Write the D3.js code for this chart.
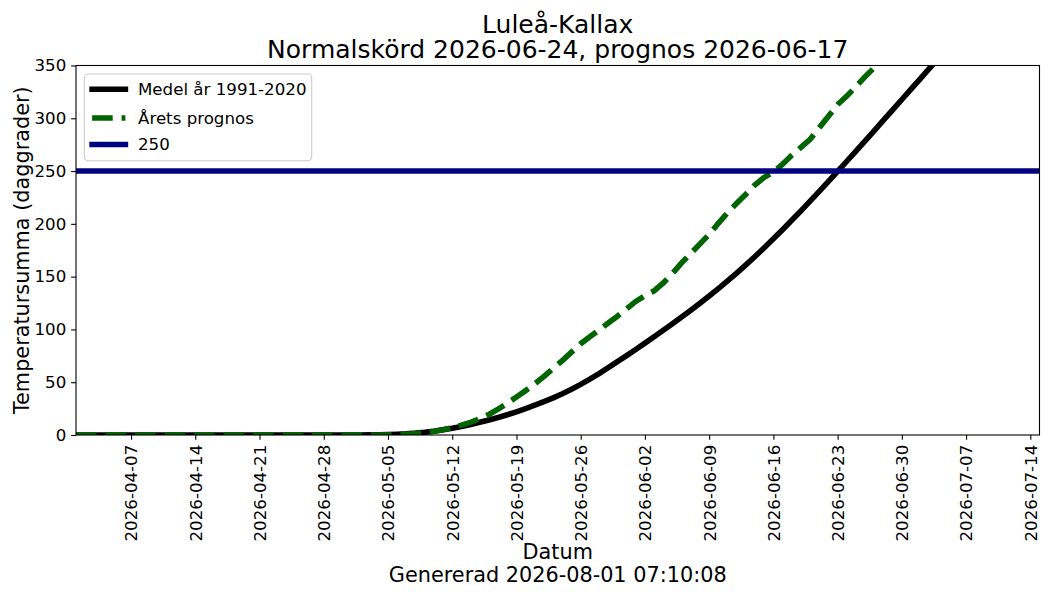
<!DOCTYPE html>
<html lang="sv">
<head>
  <meta charset="UTF-8">
  <title>Luleå-Kallax temperatursumma</title>
  <script src="https://d3js.org/d3.v7.min.js"></script>
  <style>
    body { margin: 0; background: #fff; }
    svg { display: block; font-family: "DejaVu Sans", sans-serif; }
  </style>
</head>
<body>
  <div id="chart"></div>

  <script>
    // both series start on this day, one value per day
    const startDate = "2026-04-01";
    const endDate = "2026-07-15";
    const firstTickDate = "2026-04-07";

    // mean temperature sum 1991-2020 (daggrader)
    const medelValues = [
      0, 0, 0, 0, 0, 0, 0, 0, 0, 0,
      0, 0, 0, 0, 0, 0, 0, 0, 0, 0,
      0, 0, 0, 0, 0, 0, 0, 0, 0, 0,
      0, 0.05, 0.15, 0.3, 0.5, 0.8, 1.2, 1.8, 2.6, 3.6,
      4.9, 6.4, 8.1, 10.0, 12.0, 14.2, 16.6, 19.2, 22.0, 25.0,
      28.2, 31.6, 35.2, 39.1, 43.3, 47.9, 52.9, 58.2, 63.8, 69.45,
      75.2, 81.05, 87.0, 93.05, 99.2, 105.45, 111.8, 118.25, 124.85, 131.65,
      138.65, 145.9, 153.4, 161.15, 169.15, 177.4, 185.85, 194.5, 203.35, 212.35,
      221.5, 230.8, 240.2, 249.7, 259.3, 268.95, 278.65, 288.4, 298.2, 308.0,
      317.8, 327.6, 337.4, 347.2, 357.0, 366.8
    ];

    // this year's forecast
    const prognosValues = [
      0, 0, 0, 0, 0, 0, 0, 0, 0, 0,
      0, 0, 0, 0, 0, 0, 0, 0, 0, 0,
      0, 0, 0, 0, 0, 0, 0, 0, 0, 0,
      0, 0, 0, 0, 0.2, 0.4, 0.8, 1.4, 2.3, 3.5,
      5.0, 7.0, 9.3, 12.0, 15.5, 19.5, 24.5, 30.0, 36.0, 42.0,
      48.5, 55.5, 63.0, 70.5, 78.5, 86.5, 93.0, 99.5, 106.0, 112.5,
      119.5, 126.5, 132.0, 136.5, 144.0, 153.0, 163.0, 172.0, 181.0, 190.0,
      200.5, 210.5, 219.5, 228.0, 237.0, 244.0, 249.0, 256.5, 265.0, 272.5,
      280.0, 291.0, 302.0, 313.0, 321.0, 330.0, 339.5, 348.0, 357.0, 366.0
    ];

    const thresholdValue = 250;
    const yTicks = [0, 50, 100, 150, 200, 250, 300, 350];

    const titleLines = ["Luleå-Kallax", "Normalskörd 2026-06-24, prognos 2026-06-17"];
    const xLabelLines = ["Datum", "Genererad 2026-08-01 07:10:08"];
    const yLabel = "Temperatursumma (daggrader)";
    const legendLabels = ["Medel år 1991-2020", "Årets prognos", "250"];

    // figure dimensions
    const width = 1050, height = 600;
    const plot = { left: 76, right: 1039.5, top: 65.5, bottom: 435 };
    const lw = 5.56; // 4pt lines

    const parseDate = d3.utcParse("%Y-%m-%d");
    const start = parseDate(startDate);
    const toPoints = vals => vals.map((v, i) => ({ date: d3.utcDay.offset(start, i), value: v }));

    const svg = d3.select("#chart").append("svg")
      .attr("width", width)
      .attr("height", height);

    svg.append("rect").attr("width", width).attr("height", height).attr("fill", "#fff");

    const x = d3.scaleUtc()
      .domain([start, parseDate(endDate)])
      .range([plot.left, plot.right]);

    const y = d3.scaleLinear()
      .domain([0, 350])
      .range([plot.bottom, plot.top]);

    svg.append("clipPath").attr("id", "plot-clip")
      .append("rect")
      .attr("x", plot.left).attr("y", plot.top)
      .attr("width", plot.right - plot.left)
      .attr("height", plot.bottom - plot.top);

    const line = d3.line()
      .x(d => x(d.date))
      .y(d => y(d.value));

    const lines = svg.append("g").attr("clip-path", "url(#plot-clip)");

    // mean curve
    lines.append("path")
      .datum(toPoints(medelValues))
      .attr("d", line)
      .attr("fill", "none")
      .attr("stroke", "#000")
      .attr("stroke-width", lw)
      .attr("stroke-linecap", "square");

    // forecast, dashed
    lines.append("path")
      .datum(toPoints(prognosValues))
      .attr("d", line)
      .attr("fill", "none")
      .attr("stroke", "#006400")
      .attr("stroke-width", lw)
      .attr("stroke-dasharray", "20.6,8.9");

    // threshold line
    lines.append("line")
      .attr("x1", plot.left).attr("x2", plot.right)
      .attr("y1", y(thresholdValue)).attr("y2", y(thresholdValue))
      .attr("stroke", "#000080")
      .attr("stroke-width", lw);

    // axes
    const xTicks = d3.utcDay.range(parseDate(firstTickDate), d3.utcDay.offset(parseDate(endDate), 1), 7);

    const xAxis = svg.append("g")
      .attr("transform", `translate(0,${plot.bottom})`)
      .call(d3.axisBottom(x).tickValues(xTicks).tickFormat(d3.utcFormat("%Y-%m-%d"))
        .tickSize(4.86).tickPadding(4.86).tickSizeOuter(0));

    xAxis.selectAll("text")
      .attr("transform", "rotate(-90)")
      .attr("text-anchor", "end")
      .attr("x", -9.7)
      .attr("y", 0)
      .attr("dy", "0.35em");

    const yAxis = svg.append("g")
      .attr("transform", `translate(${plot.left},0)`)
      .call(d3.axisLeft(y).tickValues(yTicks).tickSize(4.86).tickPadding(4.86).tickSizeOuter(0));

    [xAxis, yAxis].forEach(ax => {
      ax.select(".domain").remove();
      ax.selectAll("line").attr("stroke", "#000").attr("stroke-width", 1.1);
      ax.selectAll("text").attr("fill", "#000").style("font-size", "16.67px")
        .style("font-family", "DejaVu Sans, sans-serif");
    });

    // frame
    svg.append("rect")
      .attr("x", plot.left).attr("y", plot.top)
      .attr("width", plot.right - plot.left)
      .attr("height", plot.bottom - plot.top)
      .attr("fill", "none")
      .attr("stroke", "#000")
      .attr("stroke-width", 1.1);

    // title
    const cx = (plot.left + plot.right) / 2;
    svg.selectAll(".title")
      .data(titleLines)
      .join("text")
      .attr("class", "title")
      .attr("x", cx)
      .attr("y", (d, i) => 32.6 + i * 25.8)
      .attr("text-anchor", "middle")
      .style("font-size", "25px")
      .text(d => d);

    // x label (two lines)
    svg.selectAll(".xlabel")
      .data(xLabelLines)
      .join("text")
      .attr("class", "xlabel")
      .attr("x", cx)
      .attr("y", (d, i) => 558.5 + i * 23.5)
      .attr("text-anchor", "middle")
      .style("font-size", "20.8px")
      .text(d => d);

    // y label
    svg.append("text")
      .attr("transform", `translate(29,${(plot.top + plot.bottom) / 2}) rotate(-90)`)
      .attr("text-anchor", "middle")
      .style("font-size", "20.8px")
      .text(yLabel);

    // legend
    const legend = svg.append("g");
    legend.append("rect")
      .attr("x", 84.3).attr("y", 74)
      .attr("width", 227.4).attr("height", 86.7)
      .attr("rx", 4)
      .attr("fill", "#fff").attr("fill-opacity", 0.8)
      .attr("stroke", "#cccccc").attr("stroke-width", 1.1);

    const legendStyles = [
      { color: "#000", dash: null, cap: "square" },
      { color: "#006400", dash: "20.6,8.9", cap: "butt" },
      { color: "#000080", dash: null, cap: "square" }
    ];
    const rowY = [89.3, 118, 144.5];

    legendLabels.forEach((label, i) => {
      const st = legendStyles[i];
      legend.append("line")
        .attr("x1", 92.1).attr("x2", 125.4)
        .attr("y1", rowY[i]).attr("y2", rowY[i])
        .attr("stroke", st.color)
        .attr("stroke-width", lw)
        .attr("stroke-linecap", st.cap)
        .attr("stroke-dasharray", st.dash);
      legend.append("text")
        .attr("x", 138)
        .attr("y", rowY[i])
        .attr("dy", "0.35em")
        .style("font-size", "16.67px")
        .text(label);
    });
  </script>
</body>
</html>
